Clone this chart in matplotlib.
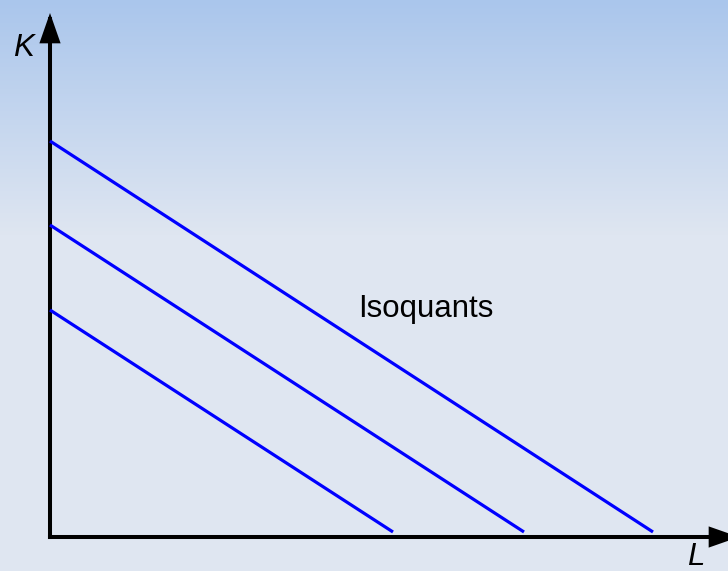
import numpy as np
import matplotlib
matplotlib.use("Agg")
import matplotlib.pyplot as plt
from matplotlib.patches import FancyArrowPatch

plt.rcParams['font.family'] = ['Liberation Sans', 'DejaVu Sans']

# Isoquant data (K intercept, L end point)
k_intercepts = [39.6, 31.2, 22.7]
l_ends = [60.3, 47.4, 34.3]
k_end = 0.5
label_text = "Isoquants"
x_label = "L"
y_label = "K"

W, H = 728, 571
fig = plt.figure(figsize=(W / 100, H / 100), dpi=100)

# gradient background
bg = fig.add_axes([0, 0, 1, 1])
bg.set_axis_off()
top = np.array([170, 198, 236]) / 255
bot = np.array([223, 230, 241]) / 255
rows = np.arange(H)
t = np.clip(rows / 235.0, 0, 1)[:, None]
grad = top[None, :] * (1 - t) + bot[None, :] * t
img = np.repeat(grad[:, None, :], 4, axis=1)
bg.imshow(img, aspect='auto', extent=[0, 1, 0, 1], origin='upper')
bg.set_xlim(0, 1)
bg.set_ylim(0, 1)

# main axes: origin at pixel (50, 537)
ox, oy = 50, 537
ax = fig.add_axes([ox / W, (H - oy) / H, (W - ox) / W, oy / H])
ax.set_xlim(0, (W - ox) / 10)
ax.set_ylim(0, oy / 10)
ax.set_axis_off()
ax.patch.set_alpha(0)

for k0, l1 in zip(k_intercepts, l_ends):
    ax.plot([0, l1], [k0, k_end], color='#0000ff', lw=2.3, solid_capstyle='butt', clip_on=False)

lw = 2.9
for end in [(0, 52.4), (68.9, 0)]:
    ax.add_patch(FancyArrowPatch((0, 0), end, arrowstyle='-|>,head_length=16,head_width=5.6',
                                 mutation_scale=1, lw=lw, color='black', shrinkA=0, shrinkB=0,
                                 clip_on=False, joinstyle='miter', capstyle='projecting'))

fig.text(358 / W, 1 - 317 / H, label_text, fontsize=22.5, ha='left', va='baseline', color='black')
fig.text(23 / W, 1 - 48 / H, y_label, fontsize=22.5, style='italic', ha='center', va='center', color='black')
fig.text(696 / W, 1 - 557 / H, x_label, fontsize=22.5, style='italic', ha='center', va='center', color='black')

fig.savefig('out.png', dpi=100)
